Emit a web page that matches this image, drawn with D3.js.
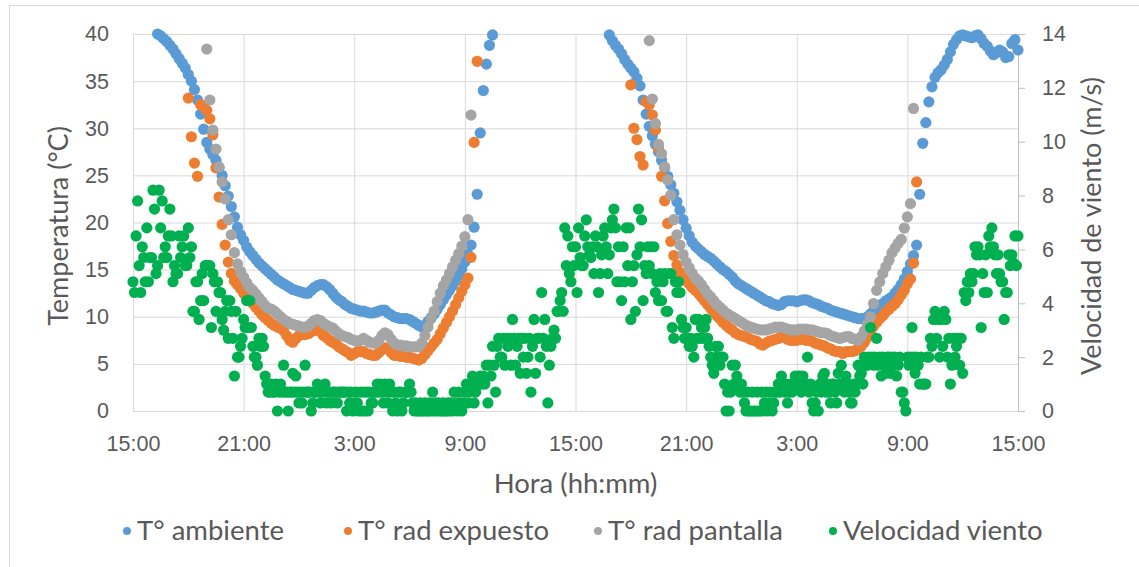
<!DOCTYPE html>
<html>
<head>
<meta charset="utf-8">
<style>
  body { margin: 0; background: #fff; }
  svg { font-family: Lato, "Open Sans", sans-serif; }
  .grid line { stroke: #d9d9d9; stroke-width: 1; }
  .grid .domain { display: none; }
  .tick text { fill: #595959; }
</style>
<script src="https://d3js.org/d3.v7.min.js"></script>
</head>
<body>
<script>
  const width = 1139;
  const height = 567;

  const horasEje = [0, 6, 12, 18, 24, 30, 36, 42, 48];
  const etiquetasHora = ["15:00", "21:00", "3:00", "9:00", "15:00", "21:00", "3:00", "9:00", "15:00"];
  const ticksTemperatura = [0, 5, 10, 15, 20, 25, 30, 35, 40];
  const ticksViento = [0, 2, 4, 6, 8, 10, 12, 14];

  const nombres = ["T° ambiente", "T° rad expuesto", "T° rad pantalla", "Velocidad viento"];
  const colores = ["#5b9bd5", "#ed7d31", "#a5a5a5", "#00b050"];

  // temperatures: one reading every 10 min, start given in minutes after 15:00 of day 1
  const ambienteInicio1 = 80;
  const ambiente1 = [
    40.0, 39.8, 39.5, 39.2, 38.8, 38.4, 37.9, 37.4, 36.9, 36.4,
    35.7, 35.0, 34.1, 33.0, 31.5, 29.9, 28.5, 27.8, 27.2, 26.6,
    25.8, 25.0, 23.9, 22.8, 21.7, 20.6, 19.5, 18.7, 18.1, 17.4,
    16.9, 16.5, 16.1, 15.7, 15.4, 15.1, 14.8, 14.5, 14.2, 13.9,
    13.7, 13.5, 13.3, 13.1, 12.9, 12.8, 12.7, 12.6, 12.5, 12.5,
    12.8, 13.1, 13.3, 13.4, 13.4, 13.2, 12.9, 12.5, 12.1, 11.8,
    11.6, 11.3, 11.1, 10.9, 10.8, 10.7, 10.6, 10.6, 10.5, 10.4,
    10.4, 10.5, 10.6, 10.7, 10.7, 10.4, 10.2, 10.0, 9.9, 9.8,
    9.8, 9.8, 9.7, 9.5, 9.3, 9.1, 8.9, 9.1, 9.5, 9.9,
    10.3, 10.8, 11.3, 11.8, 12.3, 12.8, 13.3, 13.8, 14.4, 15.1,
    15.8, 16.6, 17.6, 19.5, 23.0, 29.5, 34.0, 36.8, 38.8, 39.9
  ];
  const ambienteInicio2 = 1550;
  const ambiente2 = [
    39.9, 39.3, 38.8, 38.4, 37.9, 37.3, 36.8, 36.4, 36.0, 35.3,
    34.5, 33.0, 31.5, 30.2, 29.2, 28.3, 27.5, 26.6, 25.8, 24.9,
    24.0, 23.1, 22.2, 21.3, 20.3, 19.4, 18.6, 17.9, 17.5, 17.2,
    16.9, 16.6, 16.4, 16.2, 15.9, 15.6, 15.3, 15.0, 14.8, 14.5,
    14.2, 13.8, 13.5, 13.3, 13.1, 12.9, 12.7, 12.5, 12.3, 12.1,
    11.9, 11.7, 11.6, 11.4, 11.3, 11.2, 11.3, 11.6, 11.7, 11.7,
    11.7, 11.6, 11.7, 11.8, 11.8, 11.7, 11.5, 11.4, 11.3, 11.1,
    11.0, 10.9, 10.7, 10.6, 10.5, 10.4, 10.3, 10.2, 10.1, 10.0,
    9.9, 9.8, 9.8, 9.8, 10.0, 10.3, 10.6, 10.9, 11.1, 11.4,
    11.7, 11.9, 12.1, 12.5, 12.9, 13.4, 14.0, 14.8, 15.6, 16.5,
    17.6, 23.0, 28.4, 30.6, 32.8, 34.4, 35.4, 35.9, 36.2, 36.7,
    37.3, 38.1, 38.9, 39.4, 39.8, 39.9, 39.8, 39.7, 39.6, 39.8,
    39.9, 39.5, 39.0, 38.7, 38.2, 37.8, 38.0, 38.3, 38.1, 37.5,
    37.6, 39.0, 39.4, 38.3
  ];

  const expuestoInicio1 = 180;
  const expuesto1 = [
    33.2, 29.1, 26.3, 24.9, 32.5, 32.3, 31.9, 31.0, 29.3, 25.8,
    22.7, 19.8, 17.6, 15.8, 14.6, 13.8, 13.4, 13.0, 12.5, 12.1,
    11.8, 11.4, 11.0, 10.6, 10.2, 9.9, 9.6, 9.3, 9.1, 8.9,
    8.8, 8.5, 8.0, 7.5, 7.3, 7.7, 8.0, 8.1, 8.1, 8.2,
    8.4, 8.6, 8.6, 8.4, 8.0, 7.8, 7.5, 7.3, 7.1, 6.8,
    6.6, 6.4, 6.2, 5.9, 6.1, 6.3, 6.3, 6.3, 6.1, 6.0,
    5.9, 5.9, 6.2, 6.5, 6.7, 6.6, 6.2, 5.9, 5.9, 5.8,
    5.8, 5.7, 5.7, 5.6, 5.5, 5.4, 5.6, 6.0, 6.4, 6.8,
    7.2, 7.6, 8.2, 8.8, 9.4, 10.0, 10.6, 11.3, 12.0, 12.7,
    13.4, 14.1, 16.3, 28.5, 37.1
  ];
  const expuestoInicio2 = 1620;
  const expuesto2 = [
    34.6, 30.0, 28.8, 27.0, 26.1, 32.8, 32.5, 31.4, 29.8, 27.9,
    24.9, 22.3, 19.9, 18.0, 16.5, 15.5, 14.7, 14.2, 13.8, 13.5,
    13.1, 12.8, 12.5, 12.1, 11.7, 11.3, 10.9, 10.5, 10.1, 9.8,
    9.4, 9.1, 8.8, 8.6, 8.3, 8.1, 8.0, 7.9, 7.8, 7.6,
    7.5, 7.4, 7.1, 7.0, 7.2, 7.4, 7.5, 7.6, 7.7, 7.9,
    7.8, 7.6, 7.5, 7.5, 7.5, 7.6, 7.6, 7.5, 7.5, 7.4,
    7.2, 7.1, 7.0, 6.9, 6.7, 6.6, 6.4, 6.3, 6.3, 6.1,
    6.3, 6.3, 6.3, 6.4, 6.6, 6.9, 7.3, 7.8, 8.4, 9.0,
    9.4, 9.8, 10.1, 10.5, 10.8, 11.1, 11.4, 11.8, 12.3, 12.8,
    13.5, 14.0, 15.7, 24.3
  ];

  const pantallaInicio1 = 240;
  const pantalla1 = [
    38.4, 33.0, 29.8, 27.8, 25.9, 24.3, 22.5, 20.3, 18.7, 16.8,
    15.6, 14.8, 14.2, 13.6, 13.1, 12.8, 12.4, 12.0, 11.6, 11.2,
    10.9, 10.8, 10.6, 10.3, 10.0, 9.7, 9.5, 9.3, 9.2, 9.1,
    9.0, 8.9, 8.9, 9.0, 9.3, 9.6, 9.7, 9.6, 9.3, 9.1,
    8.9, 8.8, 8.5, 8.2, 8.0, 7.9, 7.8, 7.6, 7.5, 7.4,
    7.5, 7.7, 7.5, 7.3, 7.2, 7.2, 7.5, 8.0, 8.3, 8.1,
    7.6, 7.2, 7.0, 7.0, 6.9, 6.9, 6.8, 6.8, 6.8, 6.8,
    7.2, 8.0, 8.9, 9.8, 10.6, 11.6, 12.5, 13.3, 13.9, 14.6,
    15.3, 16.0, 16.7, 17.5, 18.5, 20.3, 31.4
  ];
  const pantallaInicio2 = 1680;
  const pantalla2 = [
    39.3, 33.1, 30.5, 28.3, 27.3, 25.9, 24.5, 22.9, 20.3, 18.7,
    17.6, 16.6, 15.8, 15.2, 14.6, 14.1, 13.8, 13.4, 12.9, 12.4,
    12.1, 11.7, 11.3, 11.0, 10.7, 10.4, 10.2, 10.0, 9.8, 9.6,
    9.4, 9.2, 9.0, 8.9, 8.8, 8.7, 8.6, 8.6, 8.6, 8.7,
    8.8, 8.9, 8.9, 8.9, 8.8, 8.7, 8.6, 8.6, 8.6, 8.7,
    8.7, 8.7, 8.6, 8.6, 8.5, 8.4, 8.3, 8.3, 8.2, 8.0,
    7.9, 7.8, 7.7, 7.8, 7.9, 7.9, 7.7, 7.6, 7.5, 7.9,
    8.5, 9.2, 10.0, 11.4, 12.8, 13.7, 14.6, 15.3, 16.0, 16.8,
    17.3, 17.8, 18.2, 19.4, 20.6, 22.0, 32.1
  ];

  // wind: one reading every 5 min from 15:00 of day 1, one row per hour
  const viento = [
    4.8, 4.4, 6.5, 7.8, 5.4, 4.4, 6.1, 5.7, 4.8, 6.8, 4.8, 5.7,
    5.7, 8.2, 7.5, 5.1, 5.4, 8.2, 6.8, 7.8, 5.7, 6.1, 5.7, 6.5,
    7.5, 6.5, 4.8, 5.4, 5.1, 5.1, 6.5, 5.7, 6.1, 6.5, 5.4, 5.4,
    6.8, 5.7, 6.1, 3.7, 3.7, 4.8, 4.8, 3.4, 4.1, 5.1, 4.1, 5.4,
    5.4, 5.4, 5.4, 3.1, 5.1, 4.8, 3.7, 4.8, 4.4, 4.4, 3.4, 3.0,
    3.7, 4.1, 2.7, 4.1, 3.7, 2.7, 1.3, 3.7, 2.0, 2.0, 2.4, 2.7,
    3.4, 3.1, 4.1, 3.1, 4.1, 3.1, 2.4, 2.0, 2.0, 1.7, 2.7, 2.4,
    2.7, 2.4, 1.3, 1.0, 0.7, 0.7, 1.0, 0.7, 0.7, 1.0, 0, 0.7,
    1.0, 0.7, 1.7, 0.7, 0.7, 0, 0.7, 0.7, 1.4, 0.7, 1.3, 0.7,
    0.3, 0.7, 0.3, 0.7, 1.7, 0.7, 0.7, 0.7, 0, 0.3, 0.7, 0.7,
    1.0, 0.7, 0.3, 0.7, 0.7, 1.0, 0.3, 0.7, 0.7, 0.3, 0.7, 0.7,
    0.7, 0.3, 0.7, 0.7, 0.7, 0.7, 0.7, 0, 0.7, 0.3, 0.7, 0,
    0.3, 0.7, 0.3, 0, 0.7, 0, 0.7, 0, 0.7, 0, 0.7, 0.3,
    0.3, 0.7, 0.7, 1.0, 0.7, 1.0, 0.7, 0.3, 1.0, 0.7, 0.3, 1.0,
    0.7, 0, 0.7, 0.3, 0, 0.7, 0.7, 0, 0.3, 0.7, 0.7, 0.7,
    1.0, 0.7, 0.3, 0, 0.3, 0, 0, 0.3, 0, 0, 0.3, 0,
    0, 0.3, 0, 0.7, 0, 0.3, 0, 0.3, 0, 0, 0.3, 0,
    0, 0.3, 0, 0.3, 0, 0.7, 0.3, 0, 0.7, 0.3, 0, 0.3,
    0.7, 1.0, 0.3, 0.7, 1.0, 1.3, 0.3, 0.7, 1.0, 1.0, 1.3, 1.0,
    1.3, 1.0, 1.7, 0.3, 1.7, 1.3, 2.4, 1.7, 0.7, 2.4, 2.7, 2.0,
    2.0, 2.7, 1.7, 2.7, 2.4, 2.7, 1.7, 3.4, 2.7, 1.7, 2.4, 2.7,
    1.4, 2.7, 2.0, 2.7, 1.4, 2.0, 2.7, 0.7, 2.4, 3.4, 1.4, 2.7,
    2.7, 2.0, 4.4, 2.7, 3.4, 2.4, 0.3, 1.7, 2.4, 2.7, 3.0, 2.7,
    3.7, 3.7, 4.1, 4.4, 3.7, 6.8, 5.4, 6.5, 5.1, 4.8, 6.1, 5.4,
    6.1, 4.4, 6.8, 5.7, 5.4, 5.4, 6.5, 7.1, 6.1, 5.8, 5.7, 6.1,
    5.1, 6.5, 6.1, 4.4, 5.1, 5.8, 6.5, 6.8, 6.1, 5.1, 5.8, 6.8,
    7.1, 7.5, 6.8, 4.8, 6.1, 4.8, 4.1, 6.1, 4.8, 6.8, 5.4, 6.8,
    3.4, 4.8, 5.4, 3.7, 5.8, 7.5, 6.1, 7.1, 4.1, 5.4, 5.1, 6.1,
    5.4, 6.1, 5.1, 6.1, 4.4, 4.8, 4.1, 5.1, 4.1, 4.8, 5.1, 3.7,
    3.7, 5.1, 5.1, 3.1, 2.7, 4.8, 4.4, 4.8, 4.4, 3.4, 3.1, 2.7,
    3.1, 2.7, 2.4, 2.7, 2.4, 2.0, 3.4, 2.7, 3.4, 2.7, 3.1, 2.7,
    3.1, 3.4, 2.7, 2.4, 2.0, 1.7, 1.4, 2.4, 2.0, 2.4, 1.7, 2.0,
    2.0, 1.0, 0, 0.7, 0, 0.7, 1.7, 1.0, 1.7, 1.3, 1.0, 0.7,
    1.0, 0.7, 0.3, 0, 0.7, 0, 0, 0.7, 0, 0, 0.7, 0,
    0, 0.7, 0, 0.3, 0.7, 0, 0.3, 0.7, 0, 0.3, 0.7, 0.7,
    1.0, 0.7, 1.3, 1.0, 0.7, 1.0, 0.3, 0.7, 1.0, 0.7, 1.0, 1.3,
    1.0, 1.3, 1.3, 0.7, 1.3, 1.0, 1.0, 2.0, 0.7, 1.0, 0.3, 0,
    0.3, 0.7, 0, 1.0, 0.7, 1.3, 1.4, 0.7, 1.0, 0.7, 0.3, 1.0,
    1.0, 0.7, 0.3, 1.4, 1.0, 1.7, 1.0, 0.7, 1.3, 1.0, 0.7, 0.3,
    0.3, 1.0, 0.7, 1.0, 1.7, 1.3, 1.4, 1.0, 2.0, 1.7, 1.7, 2.0,
    3.1, 2.0, 1.7, 2.0, 2.7, 1.7, 2.0, 1.3, 2.0, 1.7, 1.4, 2.0,
    2.0, 1.4, 2.0, 1.7, 2.0, 1.3, 1.7, 2.0, 0.7, 0.7, 0.3, 0,
    2.0, 1.7, 2.0, 3.1, 2.0, 1.4, 2.0, 1.7, 1.0, 2.0, 1.0, 1.0,
    1.0, 2.0, 2.0, 2.7, 2.4, 3.4, 3.7, 2.7, 3.4, 2.0, 3.4, 2.4,
    3.7, 3.4, 2.0, 2.7, 1.0, 1.7, 2.7, 2.0, 2.4, 2.7, 1.7, 2.7,
    1.4, 4.4, 4.1, 4.8, 4.4, 5.1, 4.8, 5.1, 6.1, 5.8, 6.1, 5.8,
    3.1, 5.1, 4.4, 5.8, 4.4, 6.5, 6.1, 6.8, 6.1, 5.8, 5.1, 5.8,
    5.1, 4.8, 4.8, 3.4, 4.4, 4.4, 5.8, 5.4, 5.8, 5.5, 6.5, 5.4,
    6.5
  ];

  function puntos(inicioMin, pasoMin, valores) {
    return valores.map((v, i) => ({ h: (inicioMin + i * pasoMin) / 60, v: v }));
  }

  const margin = { top: 34, right: 121, bottom: 156, left: 133 };
  const plotW = width - margin.left - margin.right;
  const plotH = height - margin.top - margin.bottom;

  const x = d3.scaleLinear().domain([0, 48]).range([margin.left, margin.left + plotW]);
  const yT = d3.scaleLinear().domain([0, 40]).range([margin.top + plotH, margin.top]);
  const yW = d3.scaleLinear().domain([0, 14]).range([margin.top + plotH, margin.top]);

  const svg = d3.select("body").append("svg")
    .attr("width", width)
    .attr("height", height);

  // chart frame (runs off the right and bottom edges like the original)
  svg.append("rect")
    .attr("x", 9.5).attr("y", 5.5)
    .attr("width", 1200).attr("height", 640)
    .attr("fill", "none")
    .attr("stroke", "#d9d9d9");

  // left axis + horizontal grid
  svg.append("g")
    .attr("class", "grid")
    .attr("transform", `translate(${margin.left},0)`)
    .call(d3.axisLeft(yT).tickValues(ticksTemperatura).tickSize(-plotW).tickPadding(24))
    .selectAll("text").style("font-size", "21.5px");

  // bottom axis + vertical grid
  svg.append("g")
    .attr("class", "grid")
    .attr("transform", `translate(0,${margin.top + plotH})`)
    .call(d3.axisBottom(x).tickValues(horasEje).tickSize(-plotH).tickPadding(25)
      .tickFormat((d, i) => etiquetasHora[i]))
    .selectAll("text").style("font-size", "21.5px");

  // right axis (wind)
  const ejeDer = svg.append("g")
    .attr("transform", `translate(${margin.left + plotW},0)`)
    .call(d3.axisRight(yW).tickValues(ticksViento).tickSize(7).tickSizeOuter(0).tickPadding(17));
  ejeDer.select(".domain").attr("stroke", "#bfbfbf");
  ejeDer.selectAll(".tick line").attr("stroke", "#bfbfbf");
  ejeDer.selectAll("text").style("font-size", "21.5px");

  const capas = [
    { datos: puntos(ambienteInicio1, 10, ambiente1).concat(puntos(ambienteInicio2, 10, ambiente2)), y: yT },
    { datos: puntos(expuestoInicio1, 10, expuesto1).concat(puntos(expuestoInicio2, 10, expuesto2)), y: yT },
    { datos: puntos(pantallaInicio1, 10, pantalla1).concat(puntos(pantallaInicio2, 10, pantalla2)), y: yT },
    { datos: puntos(0, 5, viento), y: yW }
  ];

  capas.forEach((c, k) => {
    svg.append("g")
      .selectAll("circle")
      .data(c.datos)
      .join("circle")
      .attr("cx", d => x(d.h))
      .attr("cy", d => c.y(d.v))
      .attr("r", 5.6)
      .attr("fill", colores[k]);
  });

  // axis titles
  svg.append("text")
    .attr("transform", "translate(68,226) rotate(-90)")
    .attr("text-anchor", "middle")
    .style("font-size", "27px")
    .attr("fill", "#595959")
    .text("Temperatura (°C)");

  svg.append("text")
    .attr("transform", "translate(1101,226) rotate(-90)")
    .attr("text-anchor", "middle")
    .style("font-size", "27px")
    .attr("fill", "#595959")
    .text("Velocidad de viento (m/s)");

  svg.append("text")
    .attr("x", margin.left + plotW / 2)
    .attr("y", 493)
    .attr("text-anchor", "middle")
    .style("font-size", "27.5px")
    .attr("fill", "#595959")
    .text("Hora (hh:mm)");

  // legend
  const posLeyenda = [127, 348, 598, 833];
  const leyenda = svg.append("g");
  nombres.forEach((n, i) => {
    leyenda.append("circle")
      .attr("cx", posLeyenda[i]).attr("cy", 531)
      .attr("r", 4)
      .attr("fill", colores[i]);
    leyenda.append("text")
      .attr("x", posLeyenda[i] + 10).attr("y", 540)
      .style("font-size", "27.5px")
      .attr("fill", "#595959")
      .text(n);
  });
</script>
</body>
</html>
